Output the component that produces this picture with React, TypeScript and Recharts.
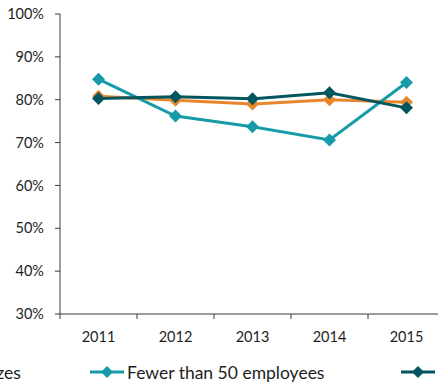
import React from 'react';
import { LineChart, Line, XAxis, YAxis, Legend } from 'recharts';

// Share of firms (%) by year and firm size
const years = ['2011', '2012', '2013', '2014', '2015'];
const allSizes = [80.8, 79.9, 79.0, 80.0, 79.4];
const fewerThan50 = [84.8, 76.2, 73.7, 70.6, 84.0];
const fiftyOrMore = [80.3, 80.7, 80.2, 81.6, 78.1];
const yTicks = [30, 40, 50, 60, 70, 80, 90, 100];

const seriesNames = ['All sizes', 'Fewer than 50 employees', '50 or more employees'];
const seriesColors = ['#E8862E', '#179BA8', '#03555F'];

const data = years.map((year, i) => ({
  year,
  all: allSizes[i],
  small: fewerThan50[i],
  large: fiftyOrMore[i],
}));

const FONT = 'Lato, "Open Sans", sans-serif';
const TEXT_COLOR = '#1e1e1e';
const AXIS_COLOR = '#3a3a3a';

const Diamond = (color: string) => (props: any) => {
  const { cx, cy } = props;
  if (cx == null || cy == null) return null;
  const r = 6.5;
  return (
    <polygon
      points={`${cx},${cy - r} ${cx + r},${cy} ${cx},${cy + r} ${cx - r},${cy}`}
      fill={color}
      stroke="none"
    />
  );
};

// Category labels with tick marks drawn on the band boundaries
const XTick = (props: any) => {
  const { x, y, payload } = props;
  const half = payload && payload.offset ? payload.offset : 38.5;
  return (
    <g>
      <line x1={x - half} x2={x - half} y1={y} y2={y + 5} stroke={AXIS_COLOR} strokeWidth={1} />
      <text
        x={x}
        y={y + 22}
        textAnchor="middle"
        dominantBaseline="central"
        fontFamily={FONT}
        fontSize={14.5}
        fill={TEXT_COLOR}
      >
        {payload.value}
      </text>
    </g>
  );
};

const entryWidths = [167, 311, 200];

const LegendContent = () => (
  <div style={{ display: 'flex', alignItems: 'center', height: 26, paddingLeft: 23, whiteSpace: 'nowrap' }}>
    {seriesNames.map((name, i) => (
      <div key={name} style={{ width: entryWidths[i], display: 'flex', alignItems: 'center', flex: 'none' }}>
        <svg width={34} height={14} style={{ flex: 'none' }}>
          <line x1={0} x2={34} y1={7} y2={7} stroke={seriesColors[i]} strokeWidth={3} />
          <polygon points="17,1 23,7 17,13 11,7" fill={seriesColors[i]} />
        </svg>
        <span style={{ marginLeft: 3, fontFamily: FONT, fontSize: 17.5, color: TEXT_COLOR }}>{name}</span>
      </div>
    ))}
  </div>
);

export default function App() {
  return (
    <div style={{ position: 'absolute', left: -100, top: 0 }}>
      <LineChart
        width={560}
        height={385}
        data={data}
        margin={{ top: 14, right: 15, bottom: 0, left: 0 }}
      >
        <XAxis
          dataKey="year"
          scale="band"
          height={45}
          tickLine={false}
          tickSize={0}
          tickMargin={0}
          interval={0}
          axisLine={{ stroke: AXIS_COLOR, strokeWidth: 1 }}
          tick={<XTick />}
        />
        <YAxis
          width={160}
          domain={[30, 100]}
          ticks={yTicks}
          interval={0}
          tickSize={5}
          tickMargin={11}
          tickFormatter={(v: number) => `${v}%`}
          axisLine={{ stroke: AXIS_COLOR, strokeWidth: 1 }}
          tickLine={{ stroke: AXIS_COLOR, strokeWidth: 1 }}
          tick={{ fontFamily: FONT, fontSize: 14.5, fill: TEXT_COLOR }}
        />
        <Legend
          verticalAlign="bottom"
          height={26}
          wrapperStyle={{ left: 0, width: 560 }}
          content={<LegendContent />}
        />
        <Line
          dataKey="all"
          name={seriesNames[0]}
          stroke={seriesColors[0]}
          strokeWidth={3}
          dot={Diamond(seriesColors[0])}
          activeDot={false}
          isAnimationActive={false}
        />
        <Line
          dataKey="small"
          name={seriesNames[1]}
          stroke={seriesColors[1]}
          strokeWidth={3}
          dot={Diamond(seriesColors[1])}
          activeDot={false}
          isAnimationActive={false}
        />
        <Line
          dataKey="large"
          name={seriesNames[2]}
          stroke={seriesColors[2]}
          strokeWidth={3}
          dot={Diamond(seriesColors[2])}
          activeDot={false}
          isAnimationActive={false}
        />
      </LineChart>
    </div>
  );
}
